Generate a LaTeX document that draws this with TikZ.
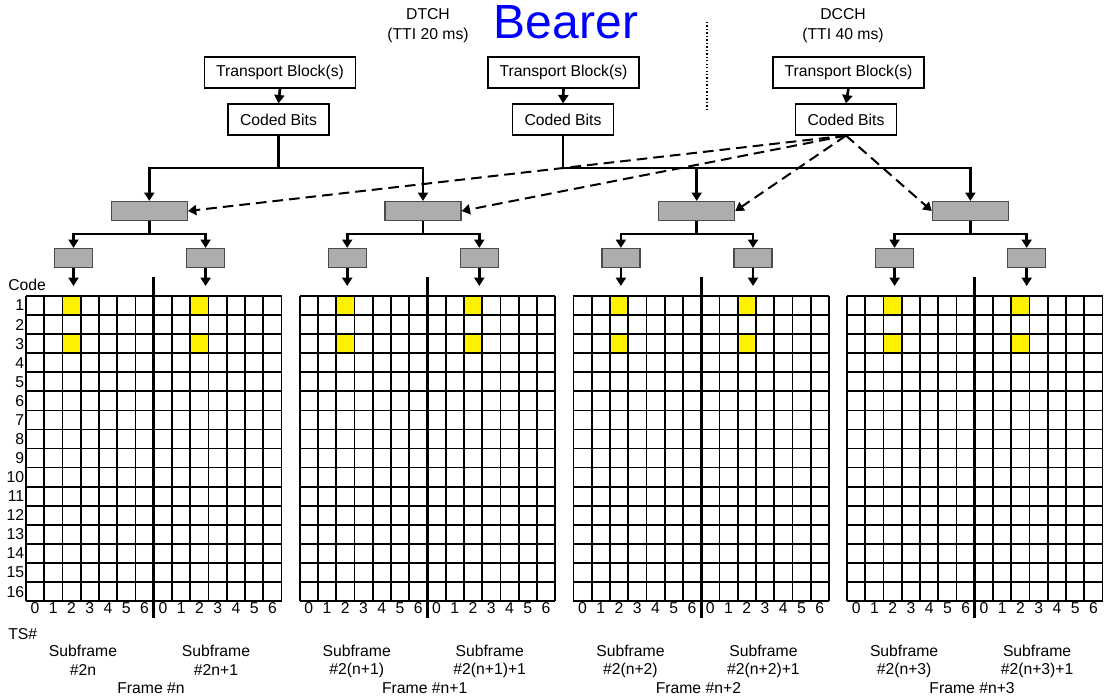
\documentclass[tikz,border=0pt]{standalone}
\usepackage{fontspec}
\setmainfont{Liberation Sans}
\usetikzlibrary{arrows.meta}

\tikzset{
  block/.style={rectangle, draw, line width=0.9pt, minimum height=23.25pt, inner sep=0pt},
  greybox/.style={rectangle, draw=black!70, fill=black!32, line width=0.9pt, inner sep=0pt},
  tree/.style={line width=2pt},
  feed/.style={-{Triangle[length=6.3pt,width=7.5pt]}},
  cell/.style={line width=1.3pt},
  dcch/.style={line width=1.5pt, dash pattern=on 8pt off 4.5pt},
}

\begin{document}
\begin{tikzpicture}[x=0.75pt, y=-0.75pt, every node/.style={font=\fontsize{11.8}{13}\selectfont}]

    \useasboundingbox (0,0) rectangle (1104,699);

    % header
    \node[text=blue, font=\fontsize{36}{40}\selectfont] (bearer) at (566,22) {Bearer};
    \node (dtch) at (428,14) {DTCH};
    \node (dtchtti) at (428,35) {(TTI 20 ms)};
    \node (dcch) at (843,14) {DCCH};
    \node (dcchtti) at (843,35) {(TTI 40 ms)};
    \draw[line width=1pt, dash pattern=on 1pt off 1.6pt] (707,22) -- (707,112);

    % transport blocks and coded bits
    \node[block, minimum width=113.25pt] at (280,72.5) (tb1) {Transport Block(s)};
    \node[block, minimum width=113.25pt] at (563.5,72.5) (tb2) {Transport Block(s)};
    \node[block, minimum width=113.25pt] at (848.5,72.5) (tb3) {Transport Block(s)};
    \node[block, minimum width=75.75pt] at (278.5,119.5) (cb1) {Coded Bits};
    \node[block, minimum width=75.75pt] at (563,119.5) (cb2) {Coded Bits};
    \node[block, minimum width=75.75pt] at (846,119.5) (cb3) {Coded Bits};
    \foreach \i in {1,2,3}
      \draw[tree, feed] (tb\i.south) -- (cb\i.north);

    % grids
    \foreach \g/\lab/\sa/\sb in {0/n/2n/2n+1, 1/n+1/2(n+1)/2(n+1)+1, 2/n+2/2(n+2)/2(n+2)+1, 3/n+3/2(n+3)/2(n+3)+1} {
      \pgfmathsetmacro{\gx}{26+273.7*\g}
      \foreach \c in {2,9} \foreach \r in {0,2}
        \fill[yellow] (\gx+\c*18.25,296+\r*19.07) rectangle ++(18.25,19.07);
      \foreach \c in {0,...,14}
        \draw[cell] (\gx+\c*18.25,296) -- (\gx+\c*18.25,601);
      \foreach \r in {0,...,16}
        \draw[cell] (\gx,296+\r*19.07) -- (\gx+255.5,296+\r*19.07);
      \draw[line width=2.3pt] (\gx+127.75,277) -- (\gx+127.75,618);
      \foreach \c in {0,...,6} {
        \node (tsa\g\c) at (\gx+\c*18.25+9.1,608) {\c};
        \node (tsb\g\c) at (\gx+\c*18.25+136.9,608) {\c};
      }
      \node (sfa\g) at (\gx+57,651) {Subframe};
      \node (sfna\g) at (\gx+57,670) {\#\sa};
      \node (sfb\g) at (\gx+190,651) {Subframe};
      \node (sfnb\g) at (\gx+190,670) {\#\sb};
      \node (fr\g) at (\gx+125,688) {Frame \#\lab};

      % grey boxes
      \node[greybox, minimum width=57pt, minimum height=14.25pt] at (\gx+123.3,211) (g\g) {};
      \node[greybox, minimum width=28.5pt, minimum height=14.25pt] at (\gx+47.5,258) (sa\g) {};
      \node[greybox, minimum width=28.5pt, minimum height=14.25pt] at (\gx+179.6,258) (sb\g) {};
      \coordinate (j\g) at (\gx+123.3,234);
      \draw[tree] (g\g.south) -- (j\g);
      \draw[tree, feed] (j\g) -| (sa\g.north);
      \draw[tree, feed] (j\g) -| (sb\g.north);
      \coordinate (ta\g) at (\gx+47.5,286);
      \coordinate (tb\g) at (\gx+179.6,286);
      \draw[tree, feed] (sa\g.south) -- (ta\g);
      \draw[tree, feed] (sb\g.south) -- (tb\g);
    }

    \node[anchor=south west, inner sep=0pt] (code) at (8,291) {Code};
    \foreach \r in {1,...,16}
      \node[anchor=east, inner sep=0pt] (row\r) at (24.5,296+\r*19.07-9.5) {\r};
    \node[anchor=west, inner sep=0pt] (ts) at (8,634) {TS\#};

    % DTCH tree
    \coordinate (k1) at (278.5,168);
    \coordinate (k2) at (563,168);
    \draw[tree] (cb1.south) -- (k1);
    \draw[tree, feed] (k1) -| (g0.north);
    \draw[tree, feed] (k1) -| (g1.north);
    \draw[tree] (cb2.south) -- (k2);
    \draw[tree, feed] (k2) -| (g2.north);
    \draw[tree, feed] (k2) -| (g3.north);

    % DCCH
    \draw[feed, dcch] (cb3.south) -- (g0.east);
    \draw[feed, dcch] (cb3.south) -- (g1.east);
    \draw[feed, dcch] (cb3.south) -- (g2.east);
    \draw[feed, dcch] (cb3.south) -- (g3.west);
  \end{tikzpicture}
\end{document}
